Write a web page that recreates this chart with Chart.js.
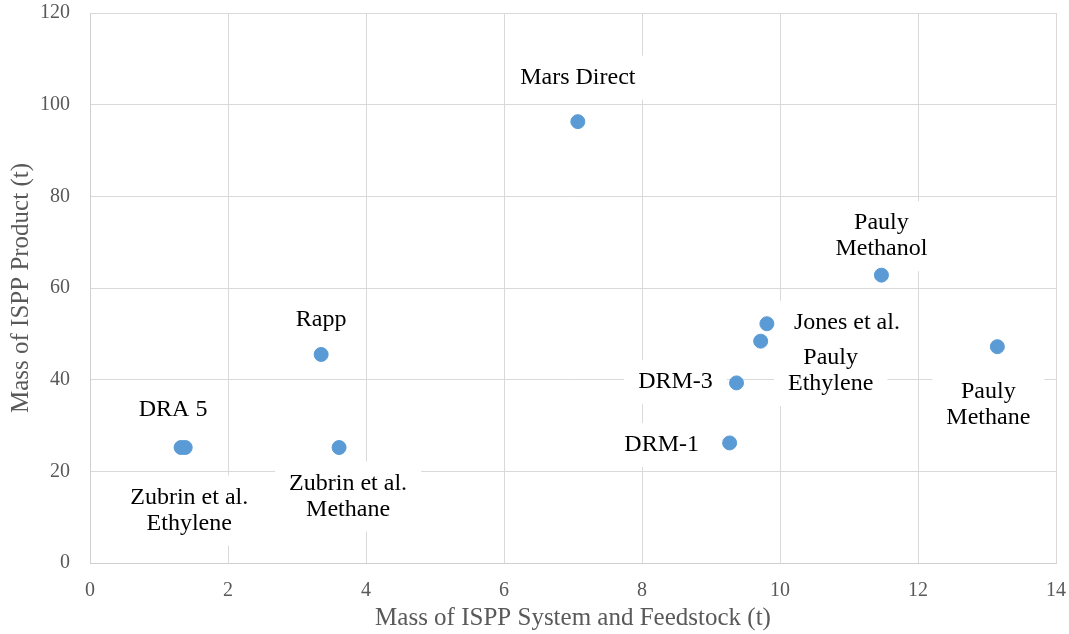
<!DOCTYPE html>
<html>
<head>
<meta charset="UTF-8">
<title>ISPP mass scatter</title>
<script src="https://cdn.jsdelivr.net/npm/chart.js"></script>
<style>
    html, body { margin: 0; padding: 0; background: #fff; }
    #wrap { width: 1069px; height: 634px; }
</style>
</head>
<body>
<div id="wrap"><canvas id="ispp"></canvas></div>
<script>
    // data
    const names = ['Zubrin et al.\nEthylene', 'DRA 5', 'Rapp', 'Zubrin et al.\nMethane', 'Mars Direct',
                   'DRM-1', 'DRM-3', 'Pauly\nEthylene', 'Jones et al.', 'Pauly\nMethanol', 'Pauly\nMethane'];
    const systemMass = [1.38, 1.32, 3.35, 3.61, 7.07, 9.27, 9.37, 9.72, 9.81, 11.47, 13.15];
    const productMass = [25.2, 25.2, 45.5, 25.2, 96.3, 26.2, 39.3, 48.4, 52.2, 62.8, 47.2];
    const xTicks = [0, 2, 4, 6, 8, 10, 12, 14];
    const yTicks = [0, 20, 40, 60, 80, 100, 120];

    // where each label sits relative to its point (px)
    const labelShift = {
        'Zubrin et al.\nEthylene': [4, 63],
        'DRA 5': [-8, -38],
        'Rapp': [0, -35],
        'Zubrin et al.\nMethane': [9, 49],
        'Mars Direct': [0, -44],
        'DRM-1': [-68, 2],
        'DRM-3': [-61, -1],
        'Pauly\nEthylene': [70, 30],
        'Jones et al.': [80, -1],
        'Pauly\nMethanol': [0, -39],
        'Pauly\nMethane': [-9, 58]
    };

    const grey = '#595959';
    const serif = '"Liberation Serif", "Times New Roman", serif';

    // white-boxed data labels, drawn over the grid but under the points
    const pointLabels = {
        id: 'pointLabels',
        beforeDatasetsDraw(chart) {
            const ctx = chart.ctx;
            const meta = chart.getDatasetMeta(0);
            ctx.save();
            ctx.font = '24px ' + serif;
            ctx.textAlign = 'center';
            ctx.textBaseline = 'middle';
            const lh = 26;
            const boxes = [];
            meta.data.forEach((pt, i) => {
                const lines = names[i].split('\n');
                const s = labelShift[names[i]];
                const cx = pt.x + s[0], cy = pt.y + s[1];
                const w = Math.max(...lines.map(l => ctx.measureText(l).width));
                const h = lines.length * lh;
                boxes.push({ cx, cy, w, h, lines });
            });
            ctx.fillStyle = '#fff';
            boxes.forEach(b => ctx.fillRect(b.cx - b.w / 2 - 14, b.cy - b.h / 2 - 9, b.w + 28, b.h + 18));
            ctx.fillStyle = '#000';
            boxes.forEach(b => {
                b.lines.forEach((l, k) => {
                    ctx.fillText(l, b.cx, b.cy - b.h / 2 + lh / 2 + k * lh);
                });
            });
            ctx.restore();
        }
    };

    // stop the tick labels from pushing the plot area inwards
    function noOverhang(s) {
        s.paddingTop = 0;
        s.paddingBottom = 0;
        s.paddingLeft = 0;
        s.paddingRight = 0;
    }

    new Chart(document.getElementById('ispp'), {
        type: 'scatter',
        data: {
            datasets: [{
                data: systemMass.map((x, i) => ({ x: x, y: productMass[i] })),
                backgroundColor: '#5b9bd5',
                borderColor: '#5b9bd5',
                pointRadius: 7,
                pointHoverRadius: 7
            }]
        },
        options: {
            responsive: true,
            maintainAspectRatio: false,
            animation: false,
            layout: { padding: { top: 13, right: 13, left: 0, bottom: 0 } },
            plugins: { legend: { display: false }, tooltip: { enabled: false } },
            scales: {
                x: {
                    type: 'linear',
                    min: 0, max: 14,
                    afterBuildTicks: s => { s.ticks = xTicks.map(v => ({ value: v })); },
                    afterFit: s => { s.height = 71; noOverhang(s); },
                    grid: { color: '#d9d9d9', drawTicks: false },
                    border: { color: '#d0d0d0' },
                    ticks: { color: grey, padding: 16, font: { family: serif, size: 20 } },
                    title: {
                        display: true,
                        text: 'Mass of ISPP System and Feedstock (t)',
                        color: grey,
                        font: { family: serif, size: 25 },
                        padding: { top: 0, bottom: 1 }
                    }
                },
                y: {
                    min: 0, max: 120,
                    afterBuildTicks: s => { s.ticks = yTicks.map(v => ({ value: v })); },
                    afterFit: s => { s.width = 90; noOverhang(s); },
                    grid: { color: '#d9d9d9', drawTicks: false },
                    border: { color: '#d0d0d0' },
                    ticks: { color: grey, padding: 20, font: { family: serif, size: 20 } },
                    title: {
                        display: true,
                        text: 'Mass of ISPP Product (t)',
                        color: grey,
                        font: { family: serif, size: 25 },
                        padding: { top: 6, bottom: 0 }
                    }
                }
            }
        },
        plugins: [pointLabels]
    });
</script>
</body>
</html>
